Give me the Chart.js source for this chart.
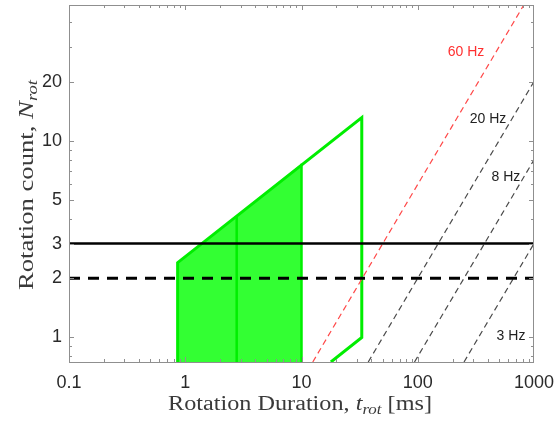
<!DOCTYPE html>
<html lang="en">
<head>
  <meta charset="UTF-8" />
  <title>Rotation count vs duration</title>
  <script src="https://cdn.jsdelivr.net/npm/chart.js"></script>
  <style>
    body { margin: 0; background: #fff; }
    #wrap { width: 556px; height: 421px; }
  </style>
</head>
<body>
  <div id="wrap"><canvas id="chart" width="556" height="421"></canvas></div>

  <script>
    // axis ticks
    const xTickVals = [0.1, 1, 10, 100, 1000];
    const yTickVals = [1, 2, 3, 5, 10, 20];

    // green region
    const fillTop = [[0.86, 2.4], [10, 7.64]];
    const outline = [[0.86, 0.75], [0.86, 2.4], [33, 13.1], [33, 1.0], [17.9, 0.75]];
    const innerLineA = [[2.77, 0.75], [2.77, 4.1]];
    const innerLineB = [[10, 0.75], [10, 7.64]];

    // threshold lines
    const solidLine = [[0.1, 3], [1000, 3]];
    const dashedLine = [[0.1, 2], [1000, 2]];

    // frequency lines N = f * t
    const hz60 = [[12.5, 0.75], [817, 49]];
    const hz20 = [[37.5, 0.75], [1000, 20]];
    const hz8 = [[93.75, 0.75], [1000, 8]];
    const hz3 = [[250, 0.75], [1000, 3]];

    const freqLabels = ['60 Hz', '20 Hz', '8 Hz', '3 Hz'];
    const freqLabelAt = [[260, 28.3], [402, 12.9], [574, 6.56], [634, 1.01]];
    const freqLabelColor = ['#ff3030', '#222', '#222', '#222'];

    const pts = arr => arr.map(p => ({ x: p[0], y: p[1] }));

    function line(data, color, width, dash) {
      return {
        data: pts(data), showLine: true, pointRadius: 0,
        borderColor: color, borderWidth: width, borderDash: dash || [],
        fill: false, tension: 0
      };
    }

    const frame = {
      id: 'frame',
      afterDatasetsDraw(chart) {
        const { ctx, chartArea: a, scales: { x, y } } = chart;
        ctx.save();
        ctx.strokeStyle = '#8f8f8f';
        ctx.lineWidth = 1;
        ctx.strokeRect(a.left + 0.5, a.top + 0.5, a.right - a.left - 1, a.bottom - a.top);

        // ticks inside, on all four sides
        ctx.beginPath();
        for (let d = 0.1; d < 1000; d *= 10) {
          for (let m = 1; m < 10; m++) {
            const v = d * m, px = Math.round(x.getPixelForValue(v)) + 0.5;
            const len = m === 1 ? 5 : 3;
            ctx.moveTo(px, a.bottom); ctx.lineTo(px, a.bottom - len);
            ctx.moveTo(px, a.top); ctx.lineTo(px, a.top + len);
          }
        }
        for (let d = 0.1; d < 100; d *= 10) {
          for (let m = 1; m < 10; m++) {
            const v = d * m;
            if (v < y.min || v > y.max) continue;
            const py = Math.round(y.getPixelForValue(v)) + 0.5;
            const len = yTickVals.includes(Math.round(v * 100) / 100) ? 5 : 3;
            ctx.moveTo(a.left, py); ctx.lineTo(a.left + len, py);
            ctx.moveTo(a.right, py); ctx.lineTo(a.right - len, py);
          }
        }
        ctx.stroke();

        // frequency labels
        ctx.font = '14px "Liberation Sans", Arial, sans-serif';
        ctx.textAlign = 'center';
        ctx.textBaseline = 'middle';
        freqLabels.forEach((t, i) => {
          ctx.fillStyle = freqLabelColor[i];
          ctx.fillText(t, x.getPixelForValue(freqLabelAt[i][0]), y.getPixelForValue(freqLabelAt[i][1]));
        });

        // axis titles with italic subscripts, stretched to the reference width
        const serif = '"Liberation Serif", "DejaVu Serif", serif';
        function measure(parts) {
          let w = 0;
          parts.forEach(p => { ctx.font = p[1]; p.w = ctx.measureText(p[0]).width; w += p.w; });
          return w;
        }
        function drawTitle(parts, cx, cy, rot, target) {
          const w = measure(parts);
          ctx.save();
          ctx.translate(cx, cy);
          ctx.rotate(rot);
          ctx.scale(target / w, 1);
          let px = -w / 2;
          parts.forEach(p => { ctx.font = p[1]; ctx.fillText(p[0], px, p[2]); px += p.w; });
          ctx.restore();
        }
        const big = '20px ' + serif, it = 'italic 20px ' + serif, sub = 'italic 14px ' + serif;
        ctx.fillStyle = '#3a3a3a';
        ctx.textAlign = 'left';
        ctx.textBaseline = 'alphabetic';

        drawTitle([['Rotation Duration, ', big, 0], ['t', it, 0], ['rot', sub, 4], [' [ms]', big, 0]],
                  300, 410, 0, 264);
        drawTitle([['Rotation count, ', big, 0], ['N', it, 0], ['rot', sub, 4]],
                  33, 185, -Math.PI / 2, 210);

        ctx.restore();
      }
    };

    const tickFont = { family: '"Liberation Sans", Arial, sans-serif', size: 18 };

    new Chart(document.getElementById('chart'), {
      type: 'scatter',
      data: {
        datasets: [
          line(solidLine, '#000', 2.5),
          line(dashedLine, '#000', 3, [11, 8]),
          line(hz60, '#ff4848', 1.2, [6, 4]),
          line(hz20, '#4a4a4a', 1.2, [6, 4]),
          line(hz8, '#4a4a4a', 1.2, [6, 4]),
          line(hz3, '#4a4a4a', 1.2, [6, 4]),
          line(innerLineA, '#00f000', 2.5),
          line(innerLineB, '#00f000', 2.5),
          line(outline, '#00ee00', 3),
          {
            data: pts(fillTop), showLine: true, pointRadius: 0,
            borderColor: '#00ee00', borderWidth: 0,
            backgroundColor: 'rgba(0,255,0,0.8)', fill: 'start'
          }
        ]
      },
      options: {
        responsive: false,
        animation: false,
        devicePixelRatio: 1,
        layout: { padding: { top: 5, right: 22, left: 0, bottom: 0 } },
        plugins: { legend: { display: false }, tooltip: { enabled: false } },
        scales: {
          x: {
            type: 'logarithmic', min: 0.1, max: 1000,
            grid: { display: false, drawTicks: false },
            border: { display: false },
            afterBuildTicks: s => { s.ticks = xTickVals.map(v => ({ value: v })); },
            afterFit: s => { s.height = 59; s.paddingLeft = 0; s.paddingRight = 0; },
            ticks: { font: tickFont, color: '#2a2a2a', padding: 10, maxRotation: 0, autoSkip: false,
                     callback: v => String(v) }
          },
          y: {
            type: 'logarithmic', min: 0.75, max: 49,
            grid: { display: false, drawTicks: false },
            border: { display: false },
            afterBuildTicks: s => { s.ticks = yTickVals.map(v => ({ value: v })); },
            afterFit: s => { s.width = 69; s.paddingTop = 0; s.paddingBottom = 0; },
            ticks: { font: tickFont, color: '#2a2a2a', padding: 7, autoSkip: false,
                     callback: v => String(v) }
          }
        }
      },
      plugins: [frame]
    });
  </script>
</body>
</html>
